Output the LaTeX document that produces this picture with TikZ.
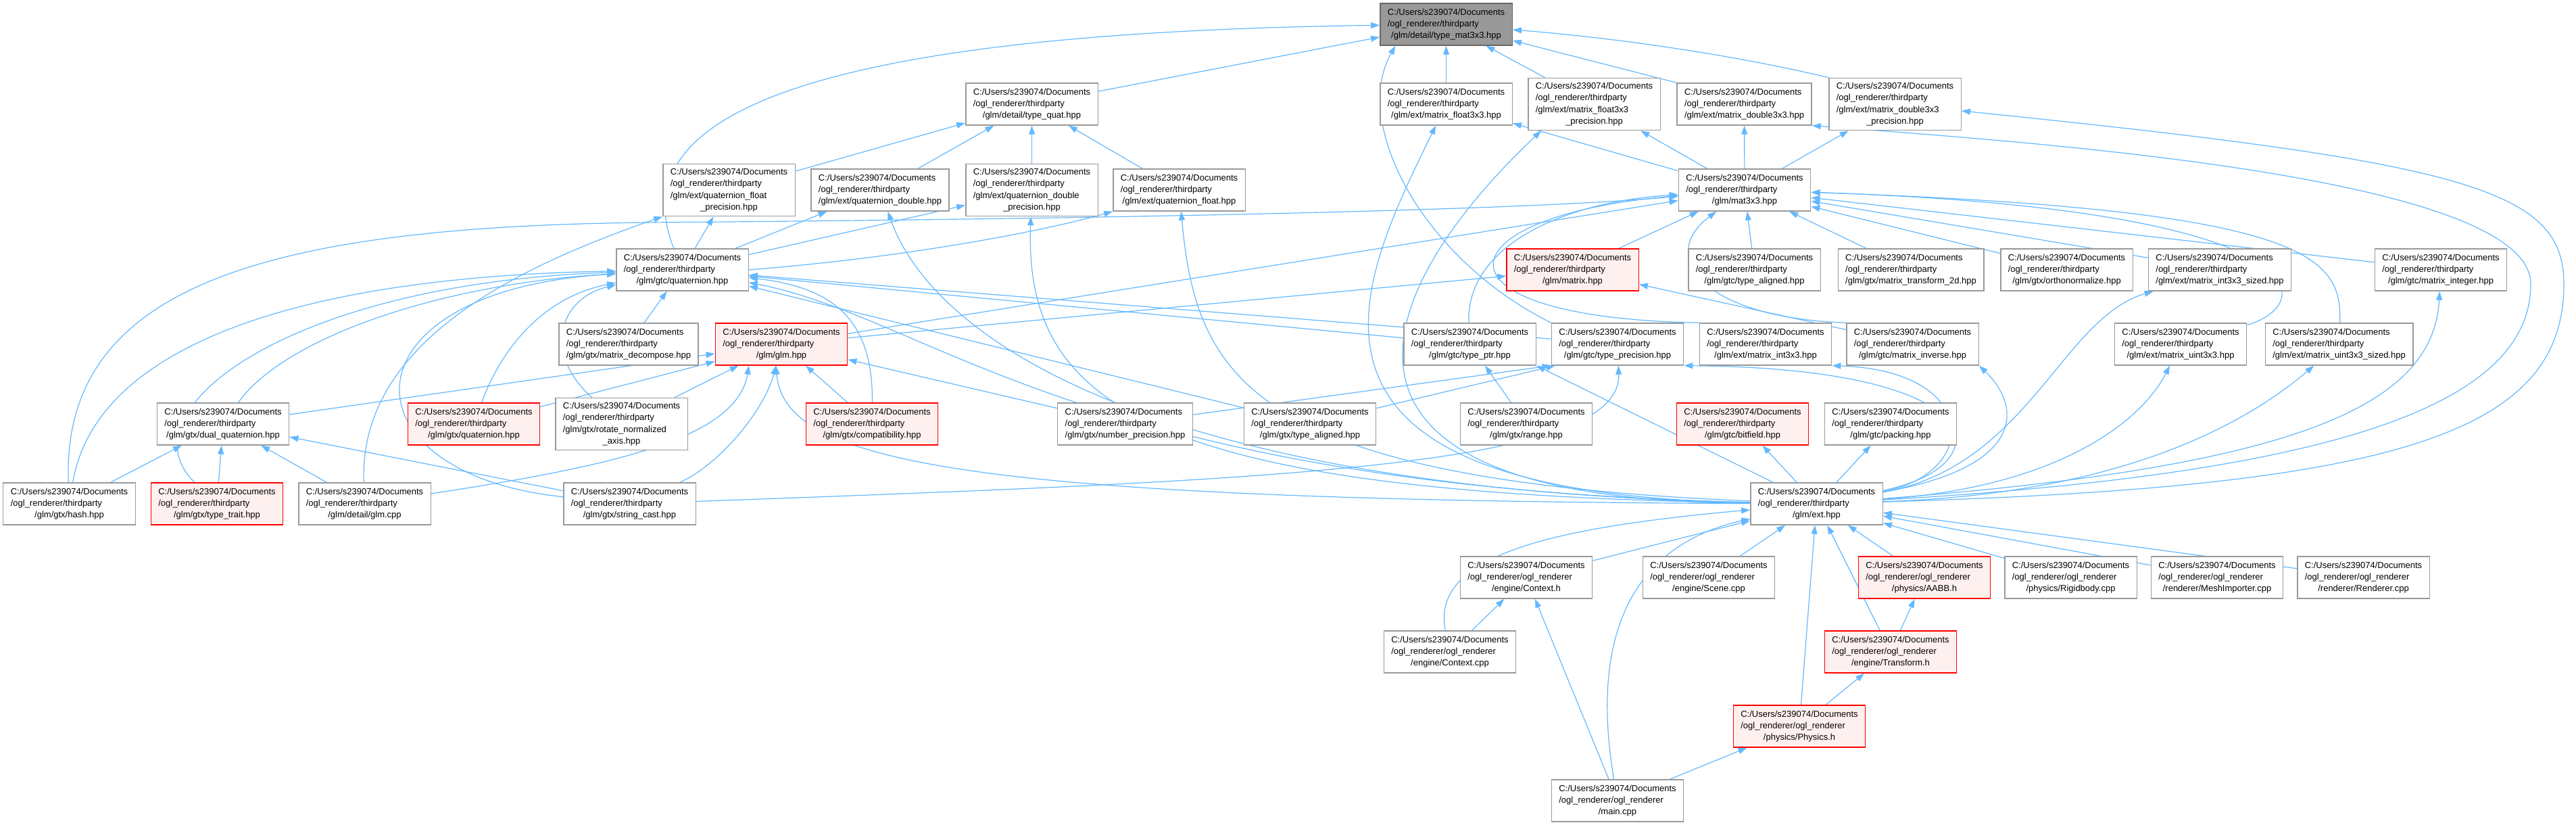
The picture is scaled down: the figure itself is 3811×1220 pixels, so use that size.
\documentclass[tikz,border=0pt]{standalone}
\usepackage{fontspec}
\setmainfont{Liberation Sans}
\usetikzlibrary{arrows.meta}
\definecolor{edgecol}{HTML}{63B8FF}
\definecolor{boxcol}{HTML}{999999}
\definecolor{rootfill}{HTML}{999999}
\definecolor{rootdraw}{HTML}{666666}
\definecolor{redfill}{HTML}{FFF0F0}
\definecolor{reddraw}{HTML}{FF0000}
\pgfdeclarelayer{background}
\pgfsetlayers{background,main}
\newcommand{\usrdir}{C:/Users/s239074/Documents}
\newcommand{\thirdp}{/ogl\_renderer/thirdparty}
\newcommand{\oglr}{/ogl\_renderer/ogl\_renderer}
% first lines left, last line centred
\newcommand{\flab}[3]{\begin{tabular}{@{}l@{}}#1\\#2\\\multicolumn{1}{@{}c@{}}{#3}\end{tabular}}
\newcommand{\flabq}[4]{\begin{tabular}{@{}l@{}}#1\\#2\\#3\\\multicolumn{1}{@{}c@{}}{#4}\end{tabular}}
\tikzset{
  file/.style={draw=boxcol, fill=white, line width=0.7pt, inner xsep=5.5pt, inner ysep=2pt,
    minimum height=31pt, font=\fontsize{6.5}{8.65}\selectfont},
  trunc/.style={file, draw=reddraw, fill=redfill},
  root/.style={file, draw=rootdraw, fill=rootfill},
  inc/.style={draw=edgecol, line width=0.6pt, -{Triangle[length=6.5pt,width=4.5pt]}},
}

\begin{document}
\begin{tikzpicture}[x=0.5pt, y=-0.5pt]
    \useasboundingbox (0,0) rectangle (3811,1220);
    % row 0
    \node[root] (T) at (2139.5,36) {\flab{\usrdir}{\thirdp}{/glm/detail/type\_mat3x3.hpp}};
    % row 1
    \node[file] (typequat) at (1526.5,154) {\flab{\usrdir}{\thirdp}{/glm/detail/type\_quat.hpp}};
    \node[file] (mf33) at (2139.5,154) {\flab{\usrdir}{\thirdp}{/glm/ext/matrix\_float3x3.hpp}};
    \node[file] (mf33p) at (2358.5,154) {\flabq{\usrdir}{\thirdp}{/glm/ext/matrix\_float3x3}{\_precision.hpp}};
    \node[file] (md33) at (2580.5,154) {\flab{\usrdir}{\thirdp}{/glm/ext/matrix\_double3x3.hpp}};
    \node[file] (md33p) at (2803.5,154) {\flabq{\usrdir}{\thirdp}{/glm/ext/matrix\_double3x3}{\_precision.hpp}};
    % row 2
    \node[file] (qfp) at (1078.5,281) {\flabq{\usrdir}{\thirdp}{/glm/ext/quaternion\_float}{\_precision.hpp}};
    \node[file] (qd) at (1302,281) {\flab{\usrdir}{\thirdp}{/glm/ext/quaternion\_double.hpp}};
    \node[file] (qdp) at (1526.5,281) {\flabq{\usrdir}{\thirdp}{/glm/ext/quaternion\_double}{\_precision.hpp}};
    \node[file] (qf) at (1744.5,281) {\flab{\usrdir}{\thirdp}{/glm/ext/quaternion\_float.hpp}};
    \node[file] (M) at (2581,281) {\flab{\usrdir}{\thirdp}{/glm/mat3x3.hpp}};
    % row 3
    \node[file] (gtcquat) at (1009.5,399) {\flab{\usrdir}{\thirdp}{/glm/gtc/quaternion.hpp}};
    \node[trunc] (matrixhpp) at (2326.5,399) {\flab{\usrdir}{\thirdp}{/glm/matrix.hpp}};
    \node[file] (gtcalign) at (2595.5,399) {\flab{\usrdir}{\thirdp}{/glm/gtc/type\_aligned.hpp}};
    \node[file] (mt2d) at (2827,399) {\flab{\usrdir}{\thirdp}{/glm/gtx/matrix\_transform\_2d.hpp}};
    \node[file] (ortho) at (3057.5,399) {\flab{\usrdir}{\thirdp}{/glm/gtx/orthonormalize.hpp}};
    \node[file] (mi33s) at (3284,399) {\flab{\usrdir}{\thirdp}{/glm/ext/matrix\_int3x3\_sized.hpp}};
    \node[file] (mint) at (3611,399) {\flab{\usrdir}{\thirdp}{/glm/gtc/matrix\_integer.hpp}};
    % row 4
    \node[file] (mdecomp) at (930,509) {\flab{\usrdir}{\thirdp}{/glm/gtx/matrix\_decompose.hpp}};
    \node[trunc] (glmhpp) at (1156,509) {\flab{\usrdir}{\thirdp}{/glm/glm.hpp}};
    \node[file] (typeptr) at (2174.5,509) {\flab{\usrdir}{\thirdp}{/glm/gtc/type\_ptr.hpp}};
    \node[file] (typeprec) at (2393,509) {\flab{\usrdir}{\thirdp}{/glm/gtc/type\_precision.hpp}};
    \node[file] (mi33) at (2612,509) {\flab{\usrdir}{\thirdp}{/glm/ext/matrix\_int3x3.hpp}};
    \node[file] (minv) at (2829.5,509) {\flab{\usrdir}{\thirdp}{/glm/gtc/matrix\_inverse.hpp}};
    \node[file] (mu33) at (3226,509) {\flab{\usrdir}{\thirdp}{/glm/ext/matrix\_uint3x3.hpp}};
    \node[file] (mu33s) at (3460.5,509) {\flab{\usrdir}{\thirdp}{/glm/ext/matrix\_uint3x3\_sized.hpp}};
    % row 5
    \node[file] (dualquat) at (330,627) {\flab{\usrdir}{\thirdp}{/glm/gtx/dual\_quaternion.hpp}};
    \node[trunc] (gtxquat) at (701,627) {\flab{\usrdir}{\thirdp}{/glm/gtx/quaternion.hpp}};
    \node[file] (rotnorm) at (919.5,627) {\flabq{\usrdir}{\thirdp}{/glm/gtx/rotate\_normalized}{\_axis.hpp}};
    \node[trunc] (compat) at (1290,627) {\flab{\usrdir}{\thirdp}{/glm/gtx/compatibility.hpp}};
    \node[file] (numprec) at (1664.5,627) {\flab{\usrdir}{\thirdp}{/glm/gtx/number\_precision.hpp}};
    \node[file] (gtxalign) at (1938,627) {\flab{\usrdir}{\thirdp}{/glm/gtx/type\_aligned.hpp}};
    \node[file] (range) at (2258,627) {\flab{\usrdir}{\thirdp}{/glm/gtx/range.hpp}};
    \node[trunc] (bitfield) at (2578,627) {\flab{\usrdir}{\thirdp}{/glm/gtc/bitfield.hpp}};
    \node[file] (packing) at (2797,627) {\flab{\usrdir}{\thirdp}{/glm/gtc/packing.hpp}};
    % row 6
    \node[file] (hash) at (102.5,745) {\flab{\usrdir}{\thirdp}{/glm/gtx/hash.hpp}};
    \node[trunc] (typetrait) at (321,745) {\flab{\usrdir}{\thirdp}{/glm/gtx/type\_trait.hpp}};
    \node[file] (glmcpp) at (539.5,745) {\flab{\usrdir}{\thirdp}{/glm/detail/glm.cpp}};
    \node[file] (stringcast) at (931.5,745) {\flab{\usrdir}{\thirdp}{/glm/gtx/string\_cast.hpp}};
    \node[file] (E) at (2687.5,745) {\flab{\usrdir}{\thirdp}{/glm/ext.hpp}};
    % row 7
    \node[file] (ctxh) at (2258,854) {\flab{\usrdir}{\oglr}{/engine/Context.h}};
    \node[file] (scene) at (2528,854) {\flab{\usrdir}{\oglr}{/engine/Scene.cpp}};
    \node[trunc] (aabb) at (2847,854) {\flab{\usrdir}{\oglr}{/physics/AABB.h}};
    \node[file] (rigid) at (3063.5,854) {\flab{\usrdir}{\oglr}{/physics/Rigidbody.cpp}};
    \node[file] (mesh) at (3280,854) {\flab{\usrdir}{\oglr}{/renderer/MeshImporter.cpp}};
    \node[file] (renderer) at (3496.5,854) {\flab{\usrdir}{\oglr}{/renderer/Renderer.cpp}};
    % rows 8-10
    \node[file] (ctxcpp) at (2145,964) {\flab{\usrdir}{\oglr}{/engine/Context.cpp}};
    \node[trunc] (transform) at (2797,964) {\flab{\usrdir}{\oglr}{/engine/Transform.h}};
    \node[trunc] (physics) at (2662,1074) {\flab{\usrdir}{\oglr}{/physics/Physics.h}};
    \node[file] (main) at (2393,1184) {\flab{\usrdir}{\oglr}{/main.cpp}};
    \coordinate (wa) at (3744,420);
    \coordinate (wb) at (3793,420);
    \coordinate (hm) at (960,329);

    \begin{pgfonlayer}{background}
    % into type_mat3x3
    \draw[inc] (typequat) -- (T);
    \draw[inc] (gtcquat) .. controls (930,200) and (1100,50) .. (T);
    \draw[inc] (typeprec.north west) .. controls (2100,380) and (2000,180) .. ([xshift=-37.5pt]T.south);
    \draw[inc] (mf33) -- (T);
    \draw[inc] (mf33p) -- (T);
    \draw[inc] (md33.north west) -- ([yshift=-12pt]T.east);
    \draw[inc] (md33p.north west) .. controls (2560,80) and (2380,55) .. ([yshift=-4pt]T.east);
    % into type_quat
    \draw[inc] (qfp) -- (typequat);
    \draw[inc] (qd) -- (typequat);
    \draw[inc] (qdp) -- (typequat);
    \draw[inc] (qf) -- (typequat);
    % mat3x3
    \draw[inc] (M) -- (mf33);
    \draw[inc] (M) -- (mf33p);
    \draw[inc] (M) -- (md33);
    \draw[inc] (M) -- (md33p);
    % gtc/quaternion
    \draw[inc] (gtcquat) -- (qfp);
    \draw[inc] (gtcquat) -- (qd);
    \draw[inc] (gtcquat) -- (qdp);
    \draw[inc] (gtcquat.east) .. controls (1350,380) and (1550,340) .. (qf.south west);
    % hash, type_trait, dual_quaternion
    \draw[inc] (hash) .. controls (90,420) and (400,335) .. (hm) .. controls (1600,324) and (2250,312) .. (M);
    \draw[inc] (hash) .. controls (140,520) and (420,410) .. (gtcquat);
    \draw[inc] (hash) -- (dualquat);
    \draw[inc] (typetrait) .. controls (180,610) and (420,420) .. (gtcquat);
    \draw[inc] (typetrait) -- (dualquat);
    \draw[inc] (dualquat) .. controls (420,500) and (650,420) .. (gtcquat);
    \draw[inc] (dualquat) -- (glmhpp);
    % glm.cpp
    \draw[inc] (glmcpp) -- (dualquat);
    \draw[inc] (glmcpp) .. controls (900,690) and (1090,650) .. ([xshift=-24pt]glmhpp.south);
    \draw[inc] (glmcpp) .. controls (530,500) and (780,390) .. (qfp.south west);
    % gtx files
    \draw[inc] (gtxquat) -- (glmhpp);
    \draw[inc] (gtxquat) .. controls (740,520) and (800,440) .. (gtcquat);
    \draw[inc] (rotnorm) -- (glmhpp);
    \draw[inc] (rotnorm) .. controls (800,520) and (830,440) .. (gtcquat);
    \draw[inc] (mdecomp) -- (gtcquat);
    \draw[inc] (compat) -- (glmhpp);
    \draw[inc] (compat) .. controls (1292,470) and (1230,425) .. (gtcquat);
    \draw[inc] (numprec) -- (glmhpp);
    \draw[inc] (numprec) -- (typeprec.south west);
    \draw[inc] (gtxalign) -- ([xshift=3pt]typeprec.south west);
    \draw[inc] (gtxalign) -- (gtcquat);
    \draw[inc] (range) -- (typeptr);
    \draw[inc] (stringcast) -- (dualquat);
    \draw[inc] (stringcast) .. controls (1060,690) and (1130,610) .. (glmhpp);
    \draw[inc] (stringcast) .. controls (1900,710) and (2400,690) .. (typeprec);
    \draw[inc] (stringcast) .. controls (500,700) and (500,430) .. (gtcquat);
    % glm.hpp, type_ptr, type_precision
    \draw[inc] (glmhpp) -- (matrixhpp);
    \draw[inc] (glmhpp) -- (M);
    \draw[inc] (typeptr) -- (gtcquat);
    \draw[inc] (typeptr) .. controls (2168,370) and (2300,300) .. (M);
    \draw[inc] (typeprec) -- (gtcquat);
    % matrix files into mat3x3
    \draw[inc] (mi33.north west) .. controls (2100,470) and (2130,320) .. (M);
    \draw[inc] (minv) -- (matrixhpp);
    \draw[inc] (minv.north west) .. controls (2520,470) and (2450,380) .. (M);
    \draw[inc] (matrixhpp) -- (M);
    \draw[inc] (gtcalign) -- (M);
    \draw[inc] (mt2d) -- (M);
    \draw[inc] (ortho) -- (M);
    \draw[inc] (mi33s) -- (M);
    \draw[inc] (mint) -- (M);
    \draw[inc] (mu33) .. controls (3430,450) and (3440,310) .. (M);
    \draw[inc] (mu33s) .. controls (3465,380) and (3420,310) .. (M);
    % ext.hpp
    \draw[inc] (E) .. controls (1700,725) and (1380,500) .. (qd);
    \draw[inc] (E) .. controls (1700,730) and (1515,600) .. (qdp);
    \draw[inc] (E) .. controls (1850,710) and (1770,560) .. (qf);
    \draw[inc] (E) .. controls (1400,740) and (1160,680) .. ([xshift=-4pt]glmhpp.south);
    \draw[inc] (E) .. controls (1600,720) and (1380,470) .. (gtcquat);
    \draw[inc] (E) -- (typeptr.south east);
    \draw[inc] (E) .. controls (2960,690) and (2960,545) .. (typeprec.south east);
    \draw[inc] (E) .. controls (2930,700) and (2930,548) .. (mi33.south east);
    \draw[inc] (E) .. controls (3000,690) and (2990,600) .. (minv.south east);
    \draw[inc] (E) .. controls (3050,720) and (3170,620) .. (mu33);
    \draw[inc] (E) .. controls (3150,730) and (3330,620) .. (mu33s);
    \draw[inc] (E) .. controls (3000,690) and (3050,470) .. ([xshift=4pt]mi33s.south west);
    \draw[inc] (E) .. controls (3400,690) and (3600,600) .. (mint);
    \draw[inc] (E) .. controls (3450,700) and (3744,600) .. (wa) .. controls (3744,260) and (3000,210) .. (md33.south east);
    \draw[inc] (E) .. controls (3550,720) and (3793,640) .. (wb) .. controls (3793,280) and (3650,240) .. (md33p);
    \draw[inc] (E) .. controls (1850,730) and (2010,420) .. (mf33);
    \draw[inc] (E) .. controls (1880,740) and (2040,420) .. ([xshift=10pt]mf33p.south west);
    \draw[inc] (E) -- (bitfield);
    \draw[inc] (E) -- (packing);
    % engine files
    \draw[inc] (ctxh) -- (E);
    \draw[inc] (scene) -- (E);
    \draw[inc] (aabb) -- (E);
    \draw[inc] (rigid) -- (E);
    \draw[inc] (mesh) -- (E);
    \draw[inc] (renderer) -- (E);
    \draw[inc] (ctxcpp) .. controls (2115,820) and (2300,780) .. (E);
    \draw[inc] (ctxcpp) -- (ctxh);
    \draw[inc] (main) -- (ctxh);
    \draw[inc] (main) .. controls (2355,960) and (2400,810) .. (E);
    \draw[inc] (main) -- (physics);
    \draw[inc] (physics) -- (E);
    \draw[inc] (physics) -- (transform);
    \draw[inc] (transform) -- (aabb);
    \draw[inc] (transform) -- (E);
    \end{pgfonlayer}
\end{tikzpicture}
\end{document}
